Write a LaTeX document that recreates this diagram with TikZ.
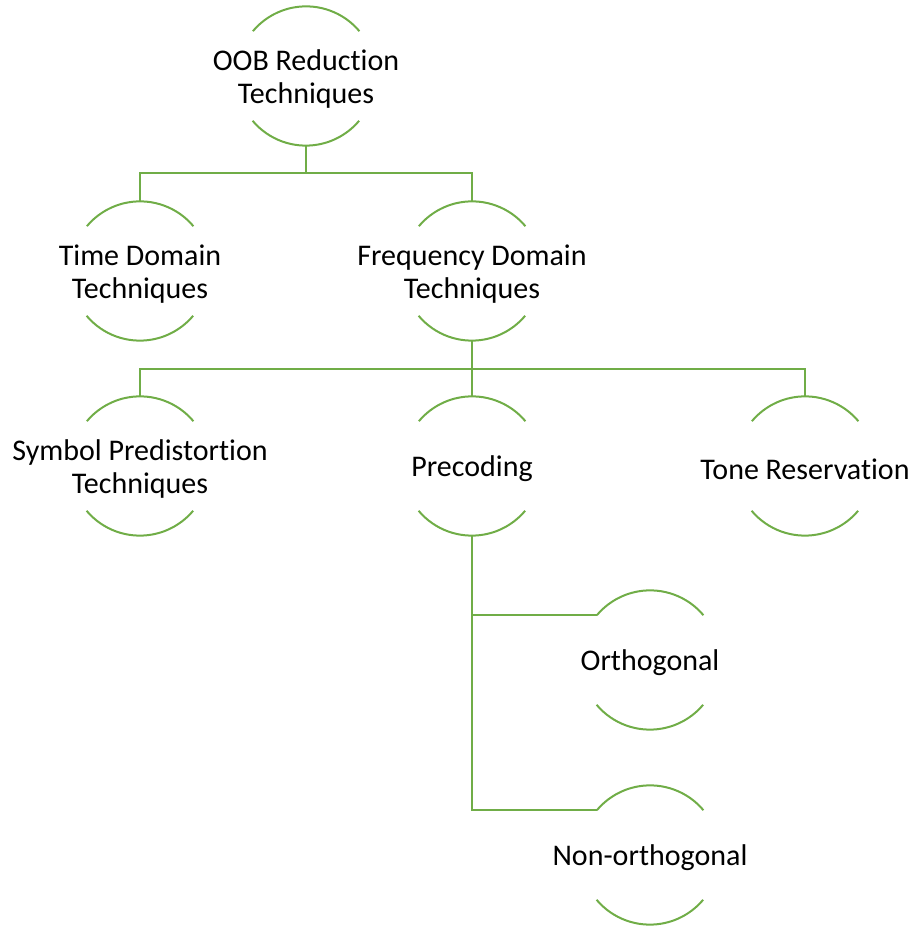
\documentclass[tikz,border=0pt]{standalone}
\usepackage{fontspec}
\setmainfont{Carlito}[Ligatures=NoCommon]
\definecolor{arcgreen}{HTML}{70AD47}
\tikzset{
  circ/.style={circle, minimum size=139pt, inner sep=0pt,
    label={[align=center, font=\fontsize{30pt}{33pt}\selectfont, text=black, yshift=-3pt]center:#1}},
  arcline/.style={draw=arcgreen, line width=2pt},
  link/.style={draw=arcgreen, line width=2pt}
}
\begin{document}
\begin{tikzpicture}[x=1pt,y=1pt]
\useasboundingbox (0,0) rectangle (912,928);
\node[circ={OOB Reduction\\Techniques}] (oob) at (306,852) {};
\node[circ={Time Domain\\Techniques}] (td) at (140,657) {};
\node[circ={Frequency Domain\\Techniques}] (fd) at (472,657) {};
\node[circ={Symbol Predistortion\\Techniques}] (sp) at (140,462) {};
\node[circ={Precoding}] (pc) at (472,462) {};
\node[circ={Tone Reservation}] (tr) at (805,462) {};
\node[circ={Orthogonal}] (or) at (650,268) {};
\node[circ={Non-orthogonal}] (no) at (650,73) {};
\foreach \n in {oob,td,fd,sp,pc,tr,or,no}{
  \draw[arcline] (\n.40) arc[start angle=40, end angle=140, radius=69.5pt];
  \draw[arcline] (\n.220) arc[start angle=220, end angle=320, radius=69.5pt];
}
\draw[link] (oob.south) -- ++(0,-27.5) -| (td.north);
\draw[link] (oob.south) -- ++(0,-27.5) -| (fd.north);
\draw[link] (fd.south) -- ++(0,-28.5) -| (sp.north);
\draw[link] (fd.south) -- (pc.north);
\draw[link] (fd.south) -- ++(0,-28.5) -| (tr.north);
\draw[link] (pc.south) |- (or.140);
\draw[link] (pc.south) |- (no.140);
\end{tikzpicture}
\end{document}
